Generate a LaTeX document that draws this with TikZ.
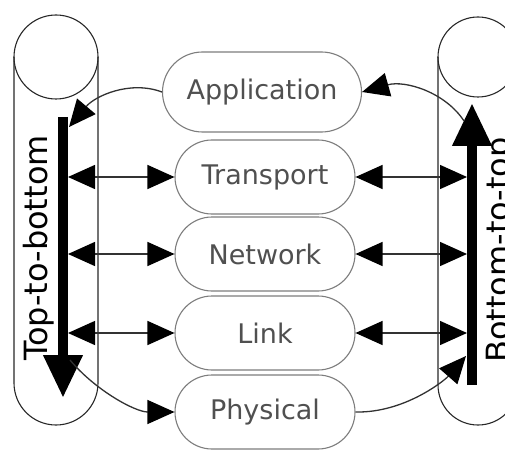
\documentclass[tikz,border=0pt]{standalone}
\usepackage{fontspec}
\setmainfont{DejaVu Sans}
\usetikzlibrary{arrows.meta}
\definecolor{layerText}{RGB}{80,80,80}
\definecolor{layerEdge}{RGB}{125,125,125}
\definecolor{tubeEdge}{RGB}{40,40,40}
\definecolor{linkDark}{RGB}{50,50,50}

\begin{document}
\begin{tikzpicture}[x=1pt,y=-1pt,
  layer/.style={draw=layerEdge,line width=1.1pt,fill=white,rounded corners=37pt,minimum width=180pt,minimum height=74pt,inner sep=0pt,text=layerText,font=\fontsize{27}{30}\selectfont},
  tube/.style={draw=tubeEdge,line width=1.1pt},
  flow/.style={line width=10pt,-{Triangle[length=43pt,width=37pt]}},
  pair/.style={draw=linkDark,line width=1.4pt,{Triangle[length=27pt,width=24pt,color=black]}-{Triangle[length=27pt,width=24pt,color=black]}},
  hop/.style={draw=linkDark,line width=1.3pt,-{Triangle[length=27pt,width=24pt,color=black]}},
  side/.style={rotate=90,anchor=base,inner sep=0pt,font=\fontsize{32}{34}\selectfont}]
\useasboundingbox (0,0) rectangle (505,449);

\draw[tube] (14,57) -- (14,383) arc[start angle=180,end angle=0,radius=42] -- (98,57);
\draw[tube] (56,57) circle[radius=42];
\draw[tube] (438,57) -- (438,385) arc[start angle=180,end angle=0,radius=40] -- (518,57);
\draw[tube] (478,57) circle[radius=40];

\coordinate (tdTop) at (63,117);
\coordinate (tdEnd) at (63,398);
\coordinate (buTop) at (472,103);
\coordinate (buEnd) at (472,385);
\draw[flow] (tdTop) -- (tdEnd);
\draw[flow] (buEnd) -- (buTop);

\node[side] (tdLabel) at (47,248) {Top-to-bottom};
\node[side] (buLabel) at (509,250) {Bottom-to-top};

\node[layer,minimum width=199pt,minimum height=80pt,rounded corners=40pt] (app) at (262,92) {Application};
\node[layer] (trans) at (265,177) {Transport};
\node[layer] (net) at (265,254) {Network};
\node[layer] (link) at (265,333) {Link};
\node[layer] (phys) at (265,412) {Physical};

\coordinate (tdEdge) at (68,0);
\coordinate (buEdge) at (467,0);
\draw[pair] (trans.west -| tdEdge) -- (trans.west);
\draw[pair] (net.west -| tdEdge) -- (net.west);
\draw[pair] (link.west -| tdEdge) -- (link.west);
\draw[pair] (trans.east) -- (trans.east -| buEdge);
\draw[pair] (net.east) -- (net.east -| buEdge);
\draw[pair] (link.east) -- (link.east -| buEdge);

\coordinate (tdIn) at (69,127);
\coordinate (tdOut) at (70,360);
\coordinate (buIn) at (466,356);
\coordinate (buOut) at (464,121);
\draw[hop] (app.west) .. controls (130,80) and (95,96) .. (tdIn);
\draw[hop] (tdOut) .. controls (95,390) and (135,412) .. (phys.west);
\draw[hop] (phys.east) .. controls (405,413) and (445,380) .. (buIn);
\draw[hop] (buOut) .. controls (445,92) and (405,80) .. (app.east);
\end{tikzpicture}
\end{document}
